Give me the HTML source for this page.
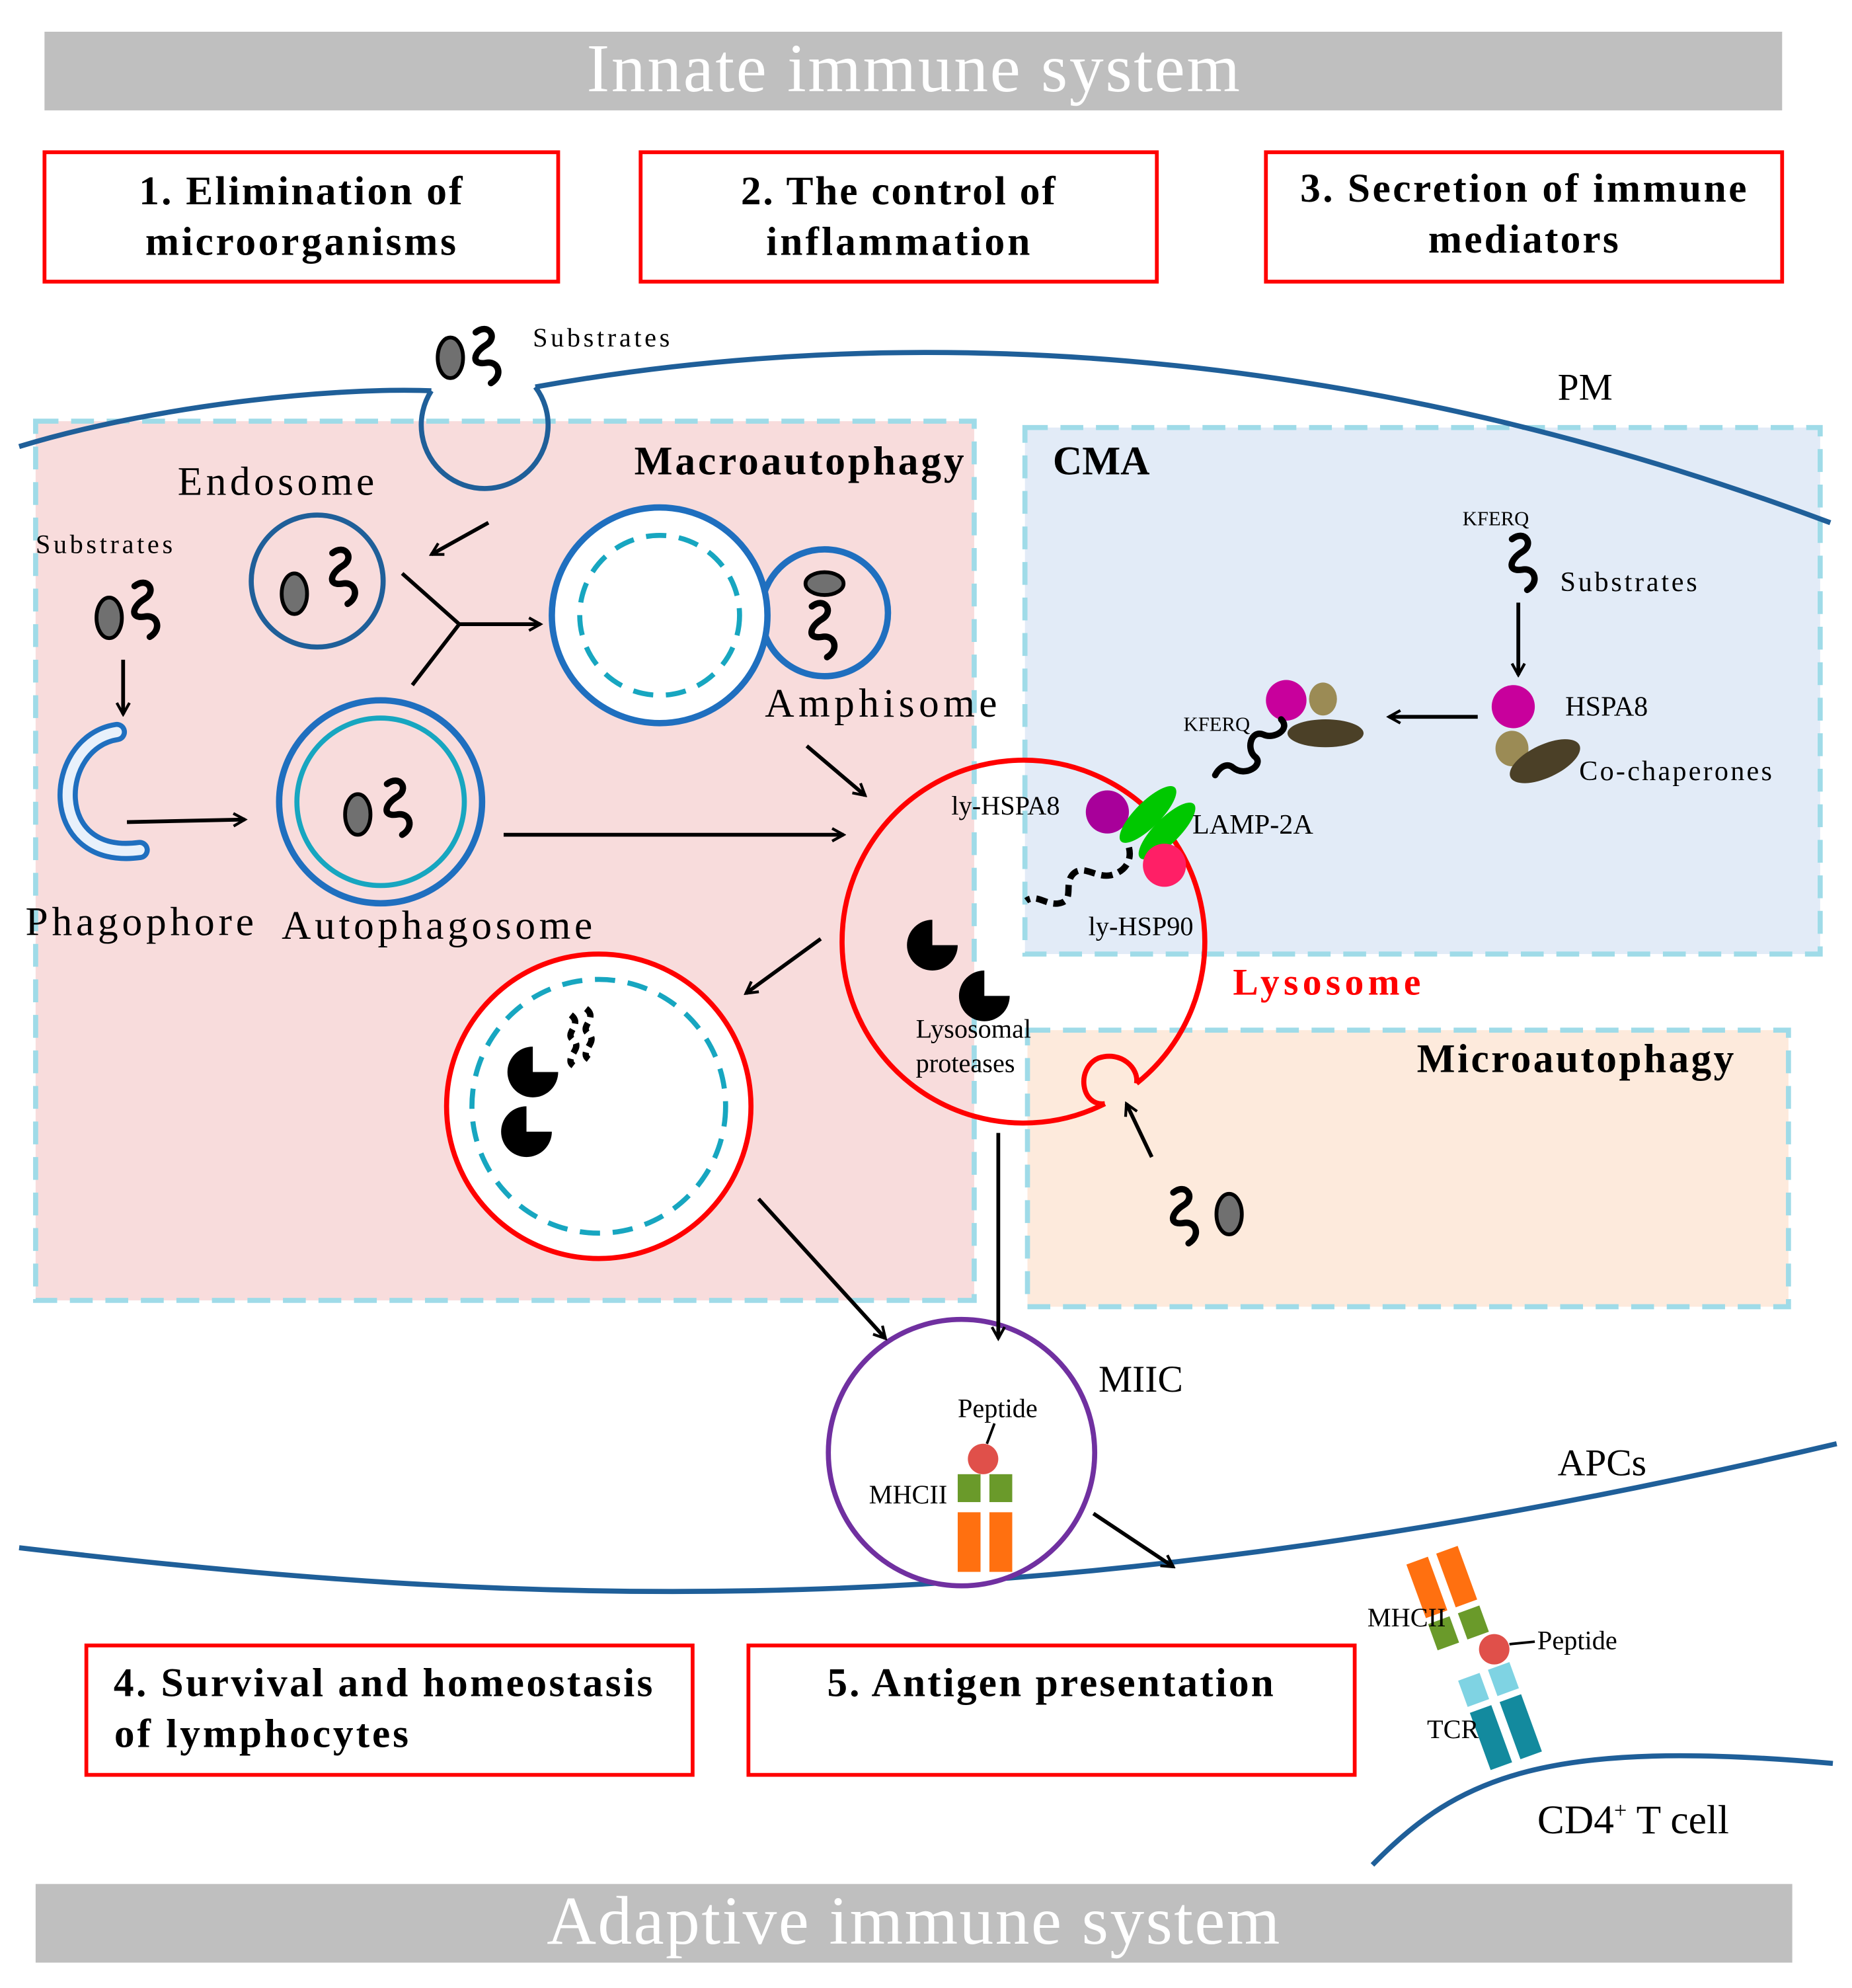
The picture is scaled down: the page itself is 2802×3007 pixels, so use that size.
<!DOCTYPE html>
<html><head><meta charset="utf-8"><style>
html,body{margin:0;padding:0;background:#fff}
svg{display:block}
text{font-family:"Liberation Serif",serif}
</style></head><body>
<svg width="2802" height="3007" viewBox="0 0 1460 1567" xmlns="http://www.w3.org/2000/svg">
<defs>
<marker id="ar" markerWidth="12" markerHeight="12" refX="10" refY="6" orient="auto" markerUnits="userSpaceOnUse" viewBox="0 0 12 12">
<path d="M1,1 L10,6 L1,11" fill="none" stroke="#000" stroke-width="2.2"/></marker>
<path id="sq" d="M0,0 c10,-8 18,4 8,10 c-10,6 -12,16 0,14 c10,-2 14,10 4,16" fill="none" stroke="#000" stroke-width="5" stroke-linecap="round"/>
<path id="pac" d="M0,0 L0,-20 A20,20 0 1 0 20,0 Z" fill="#000"/>
</defs>
<rect x="35" y="25" width="1370" height="62" fill="#bfbfbf"/>
<text x="720" y="72" font-size="54" fill="#fff" text-anchor="middle" textLength="515">Innate immune system</text>
<rect x="28" y="1485" width="1385" height="62" fill="#bfbfbf"/>
<text x="720" y="1532" font-size="54" fill="#fff" text-anchor="middle" textLength="578">Adaptive immune system</text>
<g fill="none" stroke="#f00" stroke-width="3">
<rect x="35" y="120" width="405" height="102"/><rect x="505" y="120" width="407" height="102"/><rect x="998" y="120" width="407" height="102"/>
<rect x="68" y="1297" width="478" height="102"/><rect x="590" y="1297" width="478" height="102"/>
</g>
<g font-size="32" font-weight="bold" text-anchor="middle">
<text x="237" y="161" textLength="255">1. Elimination  of</text><text x="237" y="201" textLength="245">microorganisms</text>
<text x="708" y="161" textLength="248">2. The control of</text><text x="708" y="201" textLength="208">inflammation</text>
<text x="1201" y="159" textLength="352">3. Secretion of immune</text><text x="1201" y="199" textLength="150">mediators</text>
<text x="302" y="1337" textLength="425">4. Survival and homeostasis</text><text x="206" y="1377" textLength="232">of lymphocytes</text>
<text x="828" y="1337" textLength="352">5. Antigen presentation</text>
</g>
<rect x="28" y="332" width="740" height="693" fill="#f8dcdc" stroke="#9fdbe8" stroke-width="4" stroke-dasharray="18,10"/>
<rect x="808" y="337" width="627" height="415" fill="#e2ebf7" stroke="#9fdbe8" stroke-width="4" stroke-dasharray="18,10"/>
<rect x="810" y="812" width="600" height="218" fill="#fdeadc" stroke="#9fdbe8" stroke-width="4" stroke-dasharray="18,10"/>
<g font-size="32" font-weight="bold"><text x="500" y="374" textLength="260">Macroautophagy</text><text x="830" y="374">CMA</text><text x="1117" y="845" textLength="250">Microautophagy</text></g>
<g fill="none" stroke="#1f5f99" stroke-width="4">
<path d="M15,352 C120,320 260,305 340,308"/>
<path d="M422,305 C700,255 1050,265 1443,412"/>
<path d="M340,308 A50,50 0 1 0 422,305"/>
<path d="M15,1220 C400,1265 800,1290 1448,1138"/>
<path d="M1082,1470 C1150,1400 1220,1370 1445,1390"/>
</g>
<text x="1228" y="315" font-size="30">PM</text>
<text x="1228" y="1163" font-size="30">APCs</text>
<text x="1212" y="1445" font-size="32">CD4<tspan font-size="18" dy="-12">+</tspan><tspan dy="12"> T cell</tspan></text>
<ellipse cx="355" cy="282" rx="10" ry="16" fill="#707070" stroke="#000" stroke-width="3"/>
<use href="#sq" x="375" y="262"/>
<text x="420" y="273" font-size="21" textLength="108">Substrates</text>
<text x="140" y="390" font-size="32" textLength="155">Endosome</text>
<circle cx="250" cy="458" r="52" fill="none" stroke="#1f5f99" stroke-width="4"/>
<ellipse cx="232" cy="468" rx="10" ry="16" fill="#707070" stroke="#000" stroke-width="3"/>
<use href="#sq" x="262" y="436"/>
<line x1="385" y1="412" x2="340" y2="437" stroke="#000" stroke-width="3" marker-end="url(#ar)"/>
<text x="28" y="436" font-size="21" textLength="108">Substrates</text>
<ellipse cx="86" cy="487" rx="10" ry="16" fill="#707070" stroke="#000" stroke-width="3"/>
<use href="#sq" x="106" y="462"/>
<line x1="97" y1="520" x2="97" y2="563" stroke="#000" stroke-width="3" marker-end="url(#ar)"/>
<path d="M92,577 C40,585 35,680 110,670" fill="none" stroke="#1f6fbf" stroke-width="16" stroke-linecap="round"/>
<path d="M92,577 C40,585 35,680 110,670" fill="none" stroke="#e8f1fb" stroke-width="8" stroke-linecap="round"/>
<text x="20" y="737" font-size="32" textLength="180">Phagophore</text>
<line x1="100" y1="648" x2="193" y2="646" stroke="#000" stroke-width="3" marker-end="url(#ar)"/>
<circle cx="300" cy="632" r="80" fill="none" stroke="#1f6fbf" stroke-width="5"/>
<circle cx="300" cy="632" r="66" fill="none" stroke="#17a6c0" stroke-width="4"/>
<ellipse cx="282" cy="642" rx="10" ry="16" fill="#707070" stroke="#000" stroke-width="3"/>
<use href="#sq" x="305" y="618"/>
<text x="222" y="740" font-size="32" textLength="245">Autophagosome</text>
<line x1="397" y1="658" x2="665" y2="658" stroke="#000" stroke-width="3" marker-end="url(#ar)"/>
<path d="M317,452 L362,492 L325,540 M362,492 L426,492" fill="none" stroke="#000" stroke-width="3" marker-end="url(#ar)"/>
<circle cx="650" cy="483" r="50" fill="none" stroke="#1f6fbf" stroke-width="5"/>
<circle cx="520" cy="485" r="85" fill="#fff" stroke="#1f6fbf" stroke-width="5"/>
<circle cx="520" cy="485" r="63" fill="none" stroke="#17a6c0" stroke-width="4" stroke-dasharray="16,10"/>
<ellipse cx="650" cy="460" rx="15" ry="9" fill="#707070" stroke="#000" stroke-width="3"/>
<use href="#sq" x="640" y="478"/>
<text x="603" y="565" font-size="32" textLength="183">Amphisome</text>
<line x1="636" y1="588" x2="682" y2="627" stroke="#000" stroke-width="3" marker-end="url(#ar)"/>
<circle cx="472" cy="872" r="120" fill="#fff" stroke="#f00" stroke-width="4"/>
<circle cx="472" cy="872" r="100" fill="none" stroke="#17a6c0" stroke-width="4" stroke-dasharray="16,10"/>
<use href="#pac" x="420" y="845"/><use href="#pac" x="415" y="892"/>
<path d="M450,800 c10,8 -6,14 2,20 c8,6 -8,14 0,20" fill="none" stroke="#000" stroke-width="5" stroke-dasharray="8,5"/>
<path d="M462,795 c10,8 -6,14 2,20 c8,6 -8,14 0,20" fill="none" stroke="#000" stroke-width="5" stroke-dasharray="8,5"/>
<!-- lysosome -->
<path d="M871,870 A143,143 0 1 1 896,854" fill="none" stroke="#f00" stroke-width="4"/>
<path d="M871,870 C852,872 848,842 866,834 C884,828 898,842 896,854" fill="none" stroke="#f00" stroke-width="4"/>
<use href="#pac" x="735" y="745"/><use href="#pac" x="776" y="785"/>
<text x="722" y="818" font-size="21">Lysosomal</text><text x="722" y="845" font-size="21">proteases</text>
<text x="972" y="784" font-size="30" font-weight="bold" fill="#f00" textLength="148">Lysosome</text>
<line x1="647" y1="740" x2="588" y2="783" stroke="#000" stroke-width="3" marker-end="url(#ar)"/>
<text x="1153" y="414" font-size="16">KFERQ</text>
<use href="#sq" x="1192" y="425"/>
<text x="1230" y="466" font-size="22" textLength="108">Substrates</text>
<line x1="1197" y1="475" x2="1197" y2="532" stroke="#000" stroke-width="3" marker-end="url(#ar)"/>
<circle cx="1193" cy="557" r="17" fill="#c8009c"/>
<ellipse cx="1192" cy="590" rx="13" ry="14" fill="#9b8b55"/>
<ellipse cx="1218" cy="600" rx="30" ry="13" fill="#4b4027" transform="rotate(-25 1218 600)"/>
<text x="1234" y="564" font-size="22">HSPA8</text>
<text x="1245" y="615" font-size="22" textLength="152">Co-chaperones</text>
<line x1="1165" y1="565" x2="1095" y2="565" stroke="#000" stroke-width="3" marker-end="url(#ar)"/>
<circle cx="1014" cy="552" r="16" fill="#c8009c"/>
<ellipse cx="1043" cy="551" rx="11" ry="13" fill="#9b8b55"/>
<ellipse cx="1045" cy="578" rx="30" ry="11" fill="#4b4027"/>
<text x="933" y="576" font-size="16">KFERQ</text>
<path d="M1010,567 c8,8 -6,16 -14,12 c-10,-4 -14,12 -6,18 c6,6 -8,16 -18,8 c-6,-5 -12,2 -14,6" fill="none" stroke="#000" stroke-width="5" stroke-linecap="round"/>
<circle cx="873" cy="640" r="17" fill="#a8009a"/>
<ellipse cx="905" cy="642" rx="30" ry="10" fill="#00c800" transform="rotate(-45 905 642)"/>
<ellipse cx="920" cy="655" rx="30" ry="10" fill="#00c800" transform="rotate(-45 920 655)"/>
<circle cx="918" cy="682" r="17" fill="#ff1f66"/>
<path d="M890,668 c3,12 -5,20 -15,22 c-12,2 -22,-10 -30,0 c-6,8 2,20 -10,22 c-10,2 -18,-8 -26,-2" fill="none" stroke="#000" stroke-width="5" stroke-dasharray="9,5"/>
<text x="750" y="642" font-size="21">ly-HSPA8</text>
<text x="940" y="657" font-size="22">LAMP-2A</text>
<text x="858" y="737" font-size="21">ly-HSP90</text>
<line x1="908" y1="912" x2="888" y2="870" stroke="#000" stroke-width="3" marker-end="url(#ar)"/>
<use href="#sq" x="925" y="940"/>
<ellipse cx="969" cy="957" rx="10" ry="16" fill="#707070" stroke="#000" stroke-width="3"/>
<circle cx="758" cy="1145" r="105" fill="#fff" stroke="#7030a0" stroke-width="4"/>
<line x1="598" y1="945" x2="698" y2="1055" stroke="#000" stroke-width="3" marker-end="url(#ar)"/>
<line x1="787" y1="893" x2="787" y2="1055" stroke="#000" stroke-width="3" marker-end="url(#ar)"/>
<text x="866" y="1097" font-size="30">MIIC</text>
<text x="755" y="1117" font-size="21">Peptide</text>
<line x1="784" y1="1122" x2="778" y2="1138" stroke="#000" stroke-width="2"/>
<circle cx="775" cy="1150" r="12" fill="#e0504a"/>
<rect x="755" y="1162" width="18" height="22" fill="#6a9a2a"/><rect x="780" y="1162" width="18" height="22" fill="#6a9a2a"/>
<rect x="755" y="1192" width="18" height="47" fill="#ff7010"/><rect x="780" y="1192" width="18" height="47" fill="#ff7010"/>
<text x="685" y="1185" font-size="21">MHCII</text>
<line x1="862" y1="1193" x2="925" y2="1235" stroke="#000" stroke-width="3" marker-end="url(#ar)"/>
<g transform="rotate(-20 1165 1300)">
<rect x="1135" y="1218" width="18" height="45" fill="#ff7010"/><rect x="1160" y="1218" width="18" height="45" fill="#ff7010"/>
<rect x="1135" y="1268" width="18" height="22" fill="#6a9a2a"/><rect x="1160" y="1268" width="18" height="22" fill="#6a9a2a"/>
<rect x="1142" y="1318" width="18" height="22" fill="#7fd3e3"/><rect x="1167" y="1318" width="18" height="22" fill="#7fd3e3"/>
<rect x="1142" y="1345" width="18" height="48" fill="#138a9e"/><rect x="1167" y="1345" width="18" height="48" fill="#138a9e"/>
</g>
<circle cx="1178" cy="1300" r="12" fill="#e0504a"/>
<line x1="1190" y1="1296" x2="1210" y2="1294" stroke="#000" stroke-width="2"/>
<text x="1212" y="1300" font-size="21">Peptide</text>
<text x="1078" y="1282" font-size="21">MHCII</text>
<text x="1125" y="1370" font-size="21">TCR</text>
</svg>
</body></html>
